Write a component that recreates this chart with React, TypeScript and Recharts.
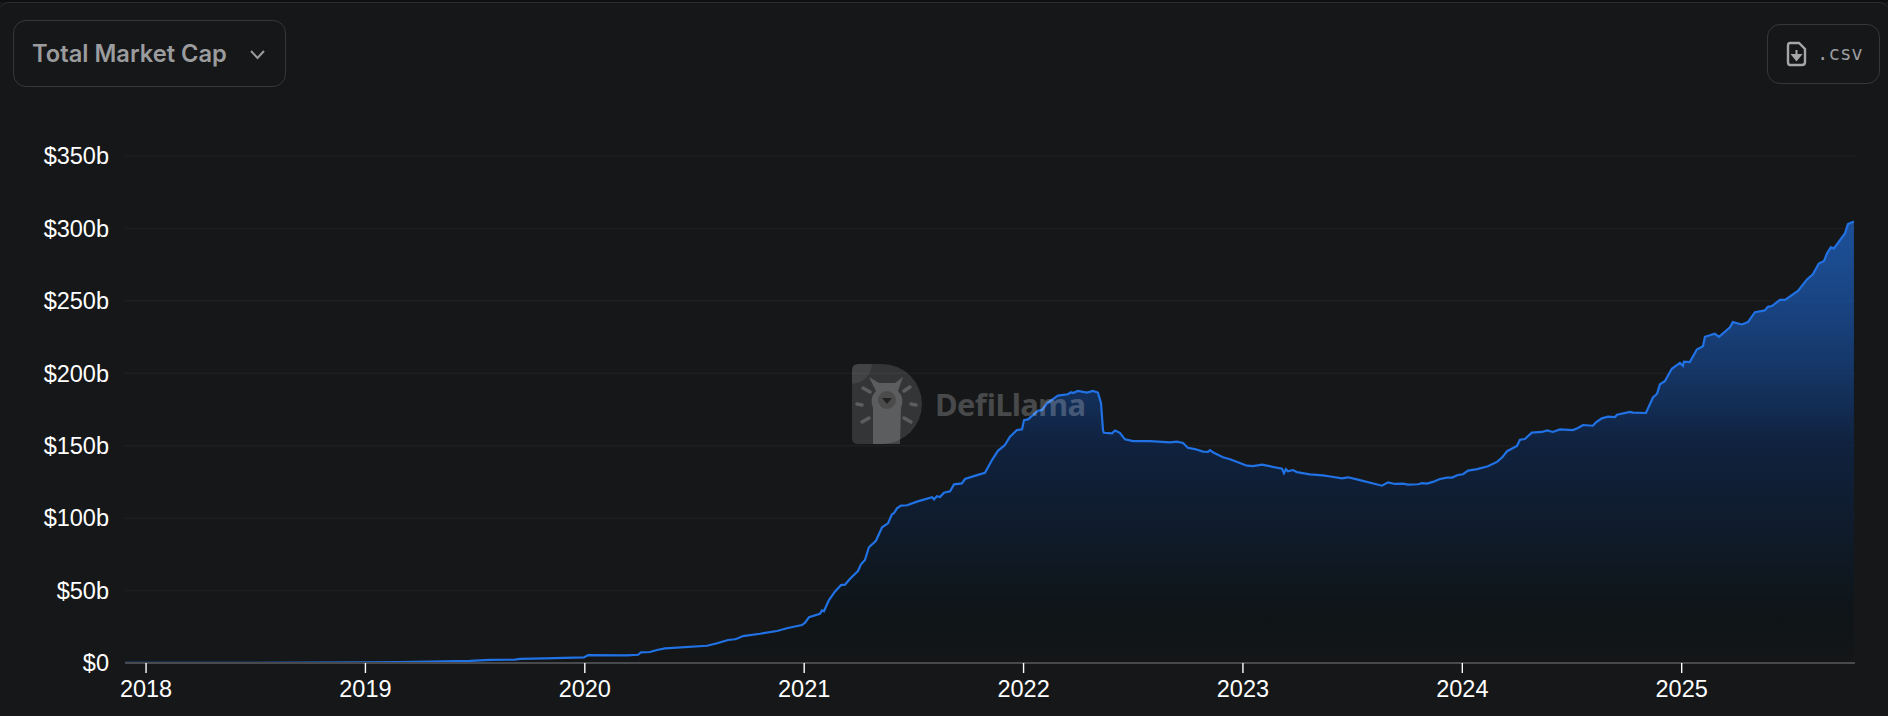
import { Area, AreaChart, CartesianGrid, XAxis, YAxis } from "recharts";

const yearTicks = [2018, 2019, 2020, 2021, 2022, 2023, 2024, 2025];
const capTicks = [0, 50, 100, 150, 200, 250, 300, 350];

// decimal year of each reading, market cap in $b
const years = [
  2017.904, 2018, 2018.5, 2019.003, 2019.158, 2019.294, 2019.477, 2019.568, 2019.682, 2019.705,
  2019.819, 2019.996, 2020.015, 2020.192, 2020.243, 2020.256, 2020.297, 2020.329, 2020.366, 2020.557,
  2020.603, 2020.653, 2020.685, 2020.698, 2020.721, 2020.799, 2020.876, 2020.926, 2020.99, 2021.004,
  2021.022, 2021.072, 2021.081, 2021.09, 2021.113, 2021.14, 2021.168, 2021.186, 2021.209, 2021.245,
  2021.259, 2021.277, 2021.295, 2021.327, 2021.355, 2021.382, 2021.4, 2021.409, 2021.423, 2021.441,
  2021.469, 2021.514, 2021.583, 2021.592, 2021.605, 2021.619, 2021.637, 2021.665, 2021.683, 2021.719,
  2021.733, 2021.788, 2021.824, 2021.856, 2021.883, 2021.915, 2021.938, 2021.97, 2021.993, 2022.002,
  2022.02, 2022.066, 2022.084, 2022.107, 2022.157, 2022.202, 2022.216, 2022.225, 2022.248, 2022.289,
  2022.316, 2022.339, 2022.353, 2022.362, 2022.366, 2022.403, 2022.417, 2022.439, 2022.462, 2022.499,
  2022.576, 2022.667, 2022.699, 2022.727, 2022.749, 2022.781, 2022.818, 2022.841, 2022.85, 2022.863,
  2022.909, 2022.941, 2022.986, 2023.018, 2023.046, 2023.087, 2023.178, 2023.187, 2023.196, 2023.205,
  2023.228, 2023.246, 2023.305, 2023.365, 2023.406, 2023.451, 2023.479, 2023.524, 2023.634, 2023.661,
  2023.693, 2023.729, 2023.752, 2023.798, 2023.816, 2023.839, 2023.866, 2023.898, 2023.93, 2023.953,
  2023.98, 2024.003, 2024.026, 2024.067, 2024.117, 2024.158, 2024.181, 2024.204, 2024.249, 2024.263,
  2024.285, 2024.317, 2024.363, 2024.386, 2024.413, 2024.445, 2024.504, 2024.527, 2024.55, 2024.595,
  2024.609, 2024.636, 2024.664, 2024.696, 2024.705, 2024.764, 2024.778, 2024.837, 2024.869, 2024.887,
  2024.901, 2024.923, 2024.955, 2024.992, 2025.006, 2025.01, 2025.037, 2025.069, 2025.097, 2025.106,
  2025.151, 2025.17, 2025.22, 2025.233, 2025.274, 2025.302, 2025.334, 2025.379, 2025.393, 2025.411,
  2025.448, 2025.471, 2025.53, 2025.571, 2025.598, 2025.625, 2025.649, 2025.662, 2025.68, 2025.694,
  2025.744, 2025.758, 2025.785,
];
const marketCap = [
  0.1, 0.1, 0.15, 0.5, 0.7, 1, 1.4, 2.1, 2.3, 2.8,
  3.2, 3.9, 5.5, 5.3, 5.7, 7.4, 7.6, 9, 10.1, 11.9,
  13.6, 15.9, 16.4, 17.1, 18.6, 20.2, 22.1, 24.2, 26.2, 27.8,
  31.7, 34, 36.3, 35.7, 43.5, 49.2, 53.8, 54.1, 58.2, 63.5,
  68.1, 71.1, 79.9, 84.4, 93.7, 96.4, 102.7, 103.4, 106.8, 108.6,
  108.9, 111.4, 114.4, 113, 115.1, 114.6, 117.6, 118.5, 123.3, 124,
  127, 129.7, 131.3, 140.1, 146.5, 150.4, 156.2, 160.8, 161.3, 167.7,
  168.2, 174.2, 174.7, 179.3, 184.6, 185.5, 186.9, 186.4, 187.8, 186.7,
  187.8, 186.7, 179.3, 160.8, 158.9, 158.5, 160.5, 158.9, 154.4, 153.2,
  153.2, 152.3, 152.8, 151.9, 148.6, 147.7, 145.9, 145.7, 146.9, 145.5,
  142, 140.7, 138, 136.2, 135.9, 136.9, 134.1, 131.1, 133.8, 132.3,
  133.2, 131.8, 130.2, 129.5, 128.6, 127.5, 128.2, 126.6, 122.4, 124.7,
  123.6, 123.8, 123.2, 123.4, 124.1, 123.8, 125, 127, 128, 128,
  129.8, 130.3, 132.8, 133.8, 135.8, 138.8, 141.8, 146.2, 149.9, 154.1,
  154.6, 159, 159.5, 160.6, 159.5, 161.3, 160.8, 162.2, 164.3, 163.8,
  166.1, 168.9, 170.1, 169.8, 171.4, 173.3, 172.8, 172.6, 183.3, 185.7,
  192.4, 194.5, 203.1, 207.2, 205.2, 208, 207.7, 216.4, 218.7, 225.2,
  227.3, 225.2, 231.7, 235.3, 233.7, 235.3, 242.2, 243.4, 245.9, 246.4,
  250.7, 250.7, 256.9, 264.8, 268.4, 275.8, 277.6, 282.7, 286.9, 286.2,
  296.5, 303, 304.8,
];

const chartData = years.map((year, i) => ({ year, cap: marketCap[i] }));

const BLUE = "#2172e5";
const tickFont = { fill: "#ffffff", fontSize: 23.5, fontFamily: "'Liberation Sans', Arial, sans-serif" };

function Watermark() {
  const ray = { stroke: "#ffffff", strokeOpacity: 0.2, strokeWidth: 3.5, strokeLinecap: "round" as const };
  return (
    <svg width={1888} height={716} style={{ position: "absolute", left: 0, top: 0, pointerEvents: "none" }}>
      <path
        d="M858 364 H882 A40 40 0 0 1 882 444 H858 Q852 444 852 438 V370 Q852 364 858 364 Z"
        fill="#ffffff"
        fillOpacity={0.13}
      />
      <path d="M852 384 Q870 382 872 364 H858 Q852 364 852 370 Z" fill="#ffffff" fillOpacity={0.07} />
      <path
        d="M869 377 L879 383 H895 L903 377 L898 391 Q905 398 901 408 L900 444 H873 L873 408 Q869 398 876 391 Z"
        fill="#ffffff"
        fillOpacity={0.2}
      />
      <circle cx={887} cy={400} r={9} fill="#161719" fillOpacity={0.25} />
      <path d="M882 398 H892 L887 404 Z" fill="#161719" fillOpacity={0.8} />
      <line x1={863} y1={388} x2={870} y2={392} {...ray} />
      <line x1={910} y1={387} x2={904} y2={391} {...ray} />
      <line x1={857} y1={404} x2={862} y2={405} {...ray} />
      <line x1={911} y1={404} x2={916} y2={405} {...ray} />
      <line x1={862} y1={422} x2={869} y2={418} {...ray} />
      <line x1={911} y1={422} x2={904} y2={418} {...ray} />
      <text
        x={935}
        y={416}
        fill="#ffffff"
        fillOpacity={0.22}
        fontSize={31}
        fontWeight={700}
        fontFamily="'Noto Sans', sans-serif"
        textLength={151}
      >
        DefiLlama
      </text>
    </svg>
  );
}

export default function App() {
  return (
    <div
      style={{
        position: "fixed",
        left: 0,
        top: 0,
        width: 1888,
        height: 716,
        background: "#161719",
        overflow: "hidden",
      }}
    >
      <div
        style={{
          position: "absolute",
          left: 0,
          top: 0,
          right: 0,
          height: 2,
          background: "#0e0f10",
        }}
      />
      <div
        style={{
          position: "absolute",
          left: -1,
          top: 2,
          right: -1,
          height: 30,
          borderTop: "1.5px solid #2b2c2f",
          borderRadius: "10px 10px 0 0",
        }}
      />
      <div
        style={{
          position: "absolute",
          left: 13,
          top: 20,
          width: 273,
          height: 67,
          boxSizing: "border-box",
          border: "1.5px solid #36373a",
          borderRadius: 13,
          color: "#9b9c9e",
          fontFamily: "Inter, sans-serif",
          fontWeight: 600,
          fontSize: 23.7,
          lineHeight: "65px",
          paddingLeft: 18,
        }}
      >
        Total Market Cap
        <svg width="18" height="12" style={{ position: "absolute", left: 235, top: 28 }}>
          <path d="M2 2 L8.5 9 L15 2" fill="none" stroke="#9b9c9e" strokeWidth="2" />
        </svg>
      </div>
      <div
        style={{
          position: "absolute",
          left: 1767,
          top: 24,
          width: 113,
          height: 60,
          boxSizing: "border-box",
          border: "1.5px solid #36373a",
          borderRadius: 13,
          color: "#9b9c9e",
          fontFamily: "'DejaVu Sans Mono', monospace",
          fontSize: 19,
          lineHeight: "57px",
          paddingLeft: 49,
        }}
      >
        .csv
        <svg width="22" height="26" style={{ position: "absolute", left: 18, top: 16 }}>
          <path
            d="M4 2 H13 L19 8 V21 Q19 24 16 24 H4 Q2 24 2 21 V5 Q2 2 4 2 Z"
            fill="none"
            stroke="#a5a6a8"
            strokeWidth="2.4"
          />
          <path d="M10.5 9 V15 M6.5 14 L10.5 19 L14.5 14 Z" fill="#a5a6a8" stroke="#a5a6a8" strokeWidth="2" />
        </svg>
      </div>
      <div style={{ position: "absolute", left: 0, top: 0 }}>
        <AreaChart
          width={1888}
          height={716}
          data={chartData}
          margin={{ top: 156, right: 33, bottom: 23, left: 0 }}
        >
          <defs>
            <linearGradient id="capFill" x1="0" y1="0" x2="0" y2="1">
              <stop offset="0%" stopColor={BLUE} stopOpacity={0.62} />
              <stop offset="50%" stopColor="#0f2343" stopOpacity={0.9} />
              <stop offset="90%" stopColor="#0e1416" stopOpacity={0.9} />
              <stop offset="100%" stopColor="#131517" stopOpacity={0.6} />
            </linearGradient>
          </defs>
          <CartesianGrid vertical={false} stroke="#1e1f22" strokeWidth={1.5} />
          <XAxis
            dataKey="year"
            type="number"
            scale="linear"
            domain={[2017.904, 2025.79]}
            allowDataOverflow
            ticks={yearTicks}
            interval={0}
            tickFormatter={(v: number) => String(v)}
            tick={tickFont}
            tickSize={10}
            tickMargin={7}
            tickLine={{ stroke: "#ffffff", strokeWidth: 1.4 }}
            axisLine={{ stroke: "#48494c", strokeWidth: 2 }}
          />
          <YAxis
            width={125}
            type="number"
            domain={[0, 350]}
            ticks={capTicks}
            interval={0}
            tickFormatter={(v: number) => (v === 0 ? "$0" : `$${v}b`)}
            tick={tickFont}
            tickSize={0}
            tickMargin={16}
            tickLine={false}
            axisLine={false}
          />
          <Area
            dataKey="cap"
            type="linear"
            stroke={BLUE}
            strokeWidth={2.2}
            fill="url(#capFill)"
            fillOpacity={1}
            isAnimationActive={false}
            activeDot={false}
          />
        </AreaChart>
      </div>
      <Watermark />
    </div>
  );
}
